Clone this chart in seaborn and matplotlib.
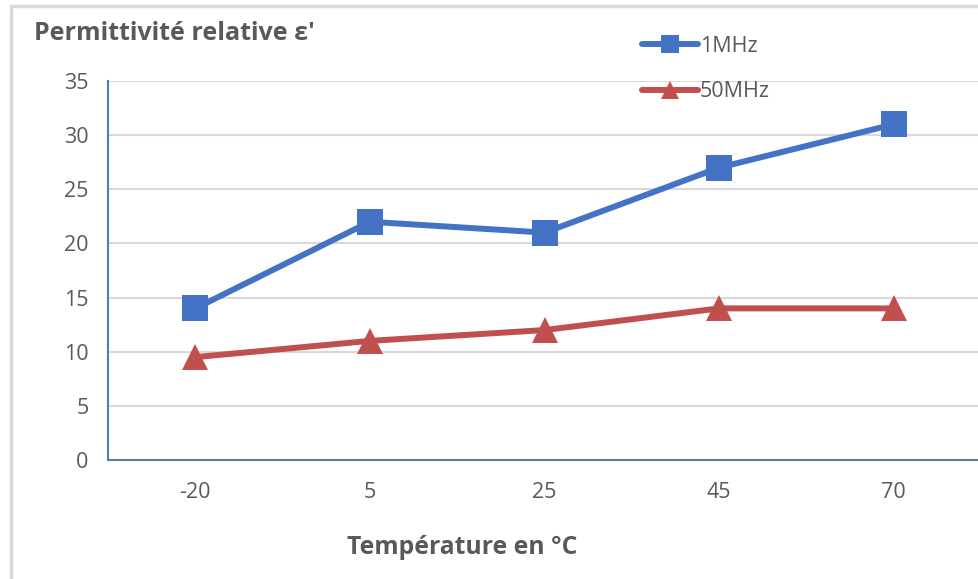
import matplotlib
matplotlib.use("Agg")
import matplotlib.pyplot as plt
from matplotlib.patches import Rectangle
import seaborn as sns
import pandas as pd

temperatures = ["-20", "5", "25", "45", "70"]
eps_1mhz = [14, 22, 21, 27, 31]
eps_50mhz = [9.5, 11, 12, 14, 14]
series_names = ["1MHz", "50MHz"]
y_ticks = [0, 5, 10, 15, 20, 25, 30, 35]

df = pd.DataFrame({
    "Température": temperatures * 2,
    "eps": eps_1mhz + eps_50mhz,
    "Fréquence": [series_names[0]] * len(temperatures) + [series_names[1]] * len(temperatures),
})

sns.set_theme(style="white")
plt.rcParams["font.family"] = ["Open Sans", "DejaVu Sans"]

text_grey = "#595959"
blue = "#4472C4"
red = "#C0504D"
axis_blue = "#4a7ebb"

fig = plt.figure(figsize=(9.79, 5.79), dpi=100)
ax = fig.add_axes([108 / 979, 1 - 460 / 579, 873 / 979, 379 / 579])

sns.lineplot(
    data=df, x="Température", y="eps", hue="Fréquence", style="Fréquence",
    palette=[blue, red], markers=["s", "^"], dashes=False, sort=False,
    linewidth=4.3, markersize=19, markeredgewidth=0, ax=ax,
)

ax.set_xlim(-0.5, len(temperatures) - 0.5)
ax.set_ylim(0, 35)
ax.set_yticks(y_ticks)
ax.set_yticklabels([str(v) for v in y_ticks])
ax.yaxis.grid(True, color="#d9d9d9", linewidth=1.5)
ax.set_axisbelow(True)

for s in ["top", "right"]:
    ax.spines[s].set_visible(False)
ax.spines["left"].set_color(axis_blue)
ax.spines["bottom"].set_color("#5a7fa3")
ax.spines["left"].set_linewidth(1.5)
ax.spines["bottom"].set_linewidth(1.5)

ax.tick_params(axis="y", direction="in", length=7, width=1.2, color="#595959",
               labelsize=15.5, labelcolor=text_grey, pad=14)
ax.tick_params(axis="x", which="major", length=0, labelsize=15.5,
               labelcolor=text_grey, pad=16)
ax.set_xticks([i + 0.5 for i in range(len(temperatures) - 1)], minor=True)
ax.tick_params(axis="x", which="minor", direction="in", length=7, width=1.2,
               color="#5a7fa3")

ax.set_xlabel("")
ax.set_ylabel("")
fig.text(462 / 979, 1 - 548 / 579, "Température en °C", ha="center", va="center",
         fontsize=17.8, fontweight="bold", color=text_grey)
fig.text(34 / 979, 1 - 33 / 579, "Permittivité relative ε'", ha="left", va="center",
         fontsize=18, fontweight="bold", color=text_grey)

leg = ax.legend(loc="upper left", bbox_to_anchor=(642 / 979, 1 - 36 / 579),
                bbox_transform=fig.transFigure, frameon=False, fontsize=15.5,
                handlelength=2.6, handletextpad=0.1, labelspacing=1.12,
                markerscale=0.65, borderaxespad=0, borderpad=0)
for t in leg.get_texts():
    t.set_color(text_grey)

fig.patches.append(Rectangle((11 / 979, -0.05), 1.1, 1 - 6 / 579 + 0.05,
                             transform=fig.transFigure, fill=False,
                             edgecolor="#d9d9d9", linewidth=2.5, zorder=0))

fig.savefig("out.png", dpi=100)
